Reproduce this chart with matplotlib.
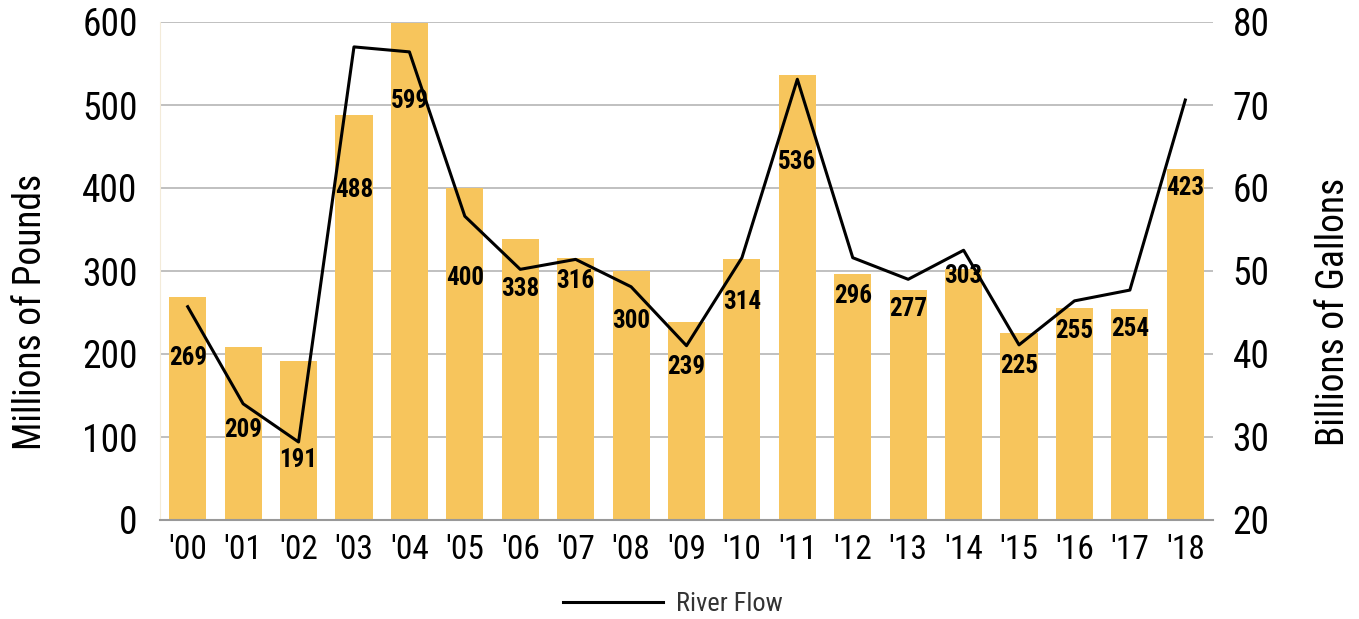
import matplotlib
matplotlib.use("Agg")
import matplotlib.pyplot as plt
from matplotlib import font_manager

names = {f.name for f in font_manager.fontManager.ttflist}
narrow = [n for n in ["Roboto Condensed", "Liberation Sans Narrow", "DejaVu Sans Condensed"] if n in names]
FONT = narrow[0] if narrow else "DejaVu Sans"
plt.rcParams['font.family'] = [FONT, 'DejaVu Sans']

years = ["'00", "'01", "'02", "'03", "'04", "'05", "'06", "'07", "'08", "'09",
         "'10", "'11", "'12", "'13", "'14", "'15", "'16", "'17", "'18"]
pounds = [269, 209, 191, 488, 599, 400, 338, 316, 300, 239,
          314, 536, 296, 277, 303, 225, 255, 254, 423]
river_flow = [45.7, 34.0, 29.4, 77.0, 76.4, 56.6, 50.2, 51.4, 48.1, 41.0,
              51.6, 73.1, 51.6, 49.0, 52.5, 41.1, 46.4, 47.7, 70.6]
# label placement (layout), in left-axis units
label_pos = [195, 108, 72, 398, 505, 292, 278, 288, 240, 184,
             263, 431, 270, 254, 294, 186, 228, 230, 400]

fig = plt.figure(figsize=(13.59, 6.19), dpi=100)
ax = fig.add_axes([160/1359, 1-520/619, (1213-160)/1359, 498/619])
x = list(range(len(years)))
ax.bar(x, pounds, width=0.67, color="#F7C55C", zorder=2)
ax.set_ylim(0, 600)
ax.set_xlim(-0.5, len(years)-0.5)
ax.set_yticks(range(0, 601, 100))
ax.yaxis.grid(True, color="#BBBBBB", linewidth=1.3, zorder=0)
ax.set_axisbelow(True)
for s in ["top", "right"]:
    ax.spines[s].set_visible(False)
ax.spines["left"].set_color("#F3EBD9")
ax.spines["bottom"].set_color("#999999")
ax.spines["bottom"].set_linewidth(1.5)
ax.tick_params(axis="both", length=0, labelsize=27, colors="black")
ax.tick_params(axis="x", labelsize=24, pad=10)
ax.tick_params(axis="y", pad=16)
ax.set_xticks(x)
ax.set_xticklabels(years)
ax.set_ylabel("Millions of Pounds", fontsize=27, labelpad=24)
ax.yaxis.label.set_y(0.418)

ax2 = ax.twinx()
ax2.plot(x, river_flow, color="black", linewidth=2.2, zorder=3, label="River Flow")
ax2.set_ylim(20, 80)
ax2.set_yticks(range(20, 81, 10))
for s in ax2.spines.values():
    s.set_visible(False)
ax2.tick_params(axis="y", length=0, labelsize=27, pad=14)
ax2.set_ylabel("Billions of Gallons", fontsize=27, labelpad=33)
ax2.yaxis.label.set_y(0.418)

for xi, v, p in zip(x, pounds, label_pos):
    ax2.text(xi, 20 + p * 60 / 600, str(v), ha="center", va="center",
             fontsize=18, fontweight="heavy", zorder=4)

leg = fig.legend(handles=ax2.get_lines(), loc="center", bbox_to_anchor=(673/1359, 1-604/619),
                 frameon=False, fontsize=19, handlelength=3.8, handletextpad=0.5,
                 labelcolor="#333333")
fig.savefig("out.png", dpi=100)
